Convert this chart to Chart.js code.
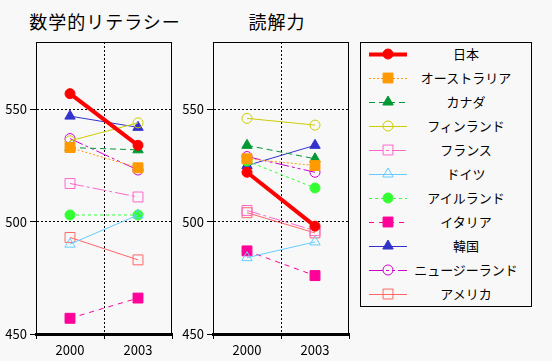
<!DOCTYPE html>
<html>
<head>
<meta charset="utf-8">
<script src="https://cdn.jsdelivr.net/npm/chart.js@4.4.0/dist/chart.umd.min.js"></script>
<style>
  body { margin: 0; background: #f8f8f8; width: 552px; height: 361px; overflow: hidden; position: relative;
         font-family: 'Noto Sans CJK JP', 'DejaVu Sans', sans-serif; color: #000; }
  canvas { position: absolute; top: 0; }
  .title { position: absolute; top: 11px; line-height: 20px; font-size: 18px; letter-spacing: 1px;
           white-space: nowrap; transform: translateX(-50%); }
  #legend { position: absolute; left: 360px; top: 42px; width: 170px; height: 263px; border: 1px solid #000; }
  .item { position: absolute; font-size: 13px; line-height: 16px; white-space: nowrap; transform: translate(-50%, -50%); }
</style>
</head>
<body>
<div class="title" style="left:105px">数学的リテラシー</div>
<div class="title" style="left:277px">読解力</div>
<canvas id="mathChart" width="180" height="361" style="left:0px"></canvas>
<canvas id="readChart" width="180" height="361" style="left:177px"></canvas>
<div id="legend"></div>
<canvas id="legendMarks" width="50" height="262" style="left:361px; top:43px"></canvas>
<script>
// Data
const years = ['2000', '2003'];
const countries = ['日本', 'オーストラリア', 'カナダ', 'フィンランド', 'フランス', 'ドイツ',
                   'アイルランド', 'イタリア', '韓国', 'ニュージーランド', 'アメリカ'];
const math2000 = [557, 533, 533, 536, 517, 490, 503, 457, 547, 537, 493];
const math2003 = [534, 524, 532, 544, 511, 503, 503, 466, 542, 523, 483];
const read2000 = [522, 528, 534, 546, 505, 484, 527, 487, 525, 529, 504];
const read2003 = [498, 525, 528, 543, 496, 491, 515, 476, 534, 522, 495];
const yTicks = [450, 500, 550];

// Styles per country
const colors = ['#ff0000', '#ff9900', '#009933', '#cccc00', '#ff66cc', '#66ccff',
                '#33ff33', '#ff0099', '#3333cc', '#cc00cc', '#ff6666'];
const dashes = [[], [2, 2], [6, 4], [], [14, 3, 3, 3], [], [3, 3], [5, 5], [], [14, 3, 3, 3, 3, 3], []];
const shapes = ['circle', 'rect', 'triangle', 'circle', 'rect', 'triangle',
                'circle', 'rect', 'triangle', 'circle', 'rect'];
const filled = [true, true, true, false, false, false, true, true, true, false, false];
const radii = [5, 7, 6, 5, 7, 6, 5, 7, 6, 5, 7];
const widths = [4, 1, 1, 1, 1, 1, 1, 1, 1, 1, 1];

const fontFamily = "'Noto Sans CJK JP', 'DejaVu Sans', sans-serif";

function makeDatasets(a, b) {
    return countries.map((name, i) => ({
        label: name,
        data: [a[i], b[i]],
        borderColor: colors[i],
        backgroundColor: filled[i] ? colors[i] : 'rgba(0,0,0,0)',
        borderWidth: widths[i],
        borderDash: dashes[i],
        pointStyle: shapes[i],
        pointRadius: radii[i],
        pointBorderWidth: 1,
        tension: 0
    }));
}

// solid frame round the plot area
const frame = {
    id: 'frame',
    beforeDatasetsDraw(chart) {
        const { ctx, chartArea: a } = chart;
        ctx.save();
        ctx.strokeStyle = '#000';
        ctx.lineWidth = 1;
        ctx.strokeRect(Math.round(a.left) + 0.5, Math.round(a.top) + 0.5,
                       Math.round(a.right - a.left) - 1, Math.round(a.bottom - a.top));
        ctx.restore();
    }
};

function makeChart(id, a, b) {
    return new Chart(document.getElementById(id), {
        type: 'line',
        data: { labels: years, datasets: makeDatasets(a, b) },
        options: {
            responsive: false,
            animation: false,
            layout: { padding: { top: 42, right: 8, left: 0, bottom: 0 } },
            plugins: { legend: { display: false }, tooltip: { enabled: false } },
            scales: {
                x: {
                    offset: true,
                    grid: {
                        offset: true,
                        color: c => c.index === 1 ? '#000' : 'rgba(0,0,0,0)',
                        tickColor: '#000',
                        tickLength: 5,
                        lineWidth: 1
                    },
                    border: { color: '#000', width: 3, dash: [2, 2] },
                    ticks: { color: '#000', font: { size: 13, family: fontFamily }, padding: 3, maxRotation: 0 },
                    afterFit: s => { s.height = 27; }
                },
                y: {
                    min: 450,
                    max: 580,
                    afterBuildTicks: s => { s.ticks = yTicks.map(v => ({ value: v })); },
                    grid: {
                        color: c => (c.tick && c.tick.value > 450) ? '#000' : 'rgba(0,0,0,0)',
                        tickColor: '#000',
                        tickLength: 6,
                        lineWidth: 1
                    },
                    border: { color: '#000', width: 1, dash: [2, 2] },
                    ticks: { color: '#000', font: { size: 13, family: fontFamily }, padding: 3 },
                    afterFit: s => { s.width = 36; }
                }
            }
        },
        plugins: [frame]
    });
}

makeChart('mathChart', math2000, math2003);
makeChart('readChart', read2000, read2003);

// Legend: line sample + marker, name centred
const legend = document.getElementById('legend');
const lctx = document.getElementById('legendMarks').getContext('2d');
countries.forEach((name, i) => {
    const y = 11 + 24 * i;
    lctx.save();
    lctx.strokeStyle = colors[i];
    lctx.lineWidth = widths[i];
    lctx.setLineDash(dashes[i]);
    lctx.beginPath();
    lctx.moveTo(8, y + 0.5);
    lctx.lineTo(46, y + 0.5);
    lctx.stroke();
    lctx.setLineDash([]);
    lctx.lineWidth = 1;
    lctx.fillStyle = filled[i] ? colors[i] : 'rgba(0,0,0,0)';
    Chart.helpers.drawPoint(lctx, { pointStyle: shapes[i], radius: radii[i], borderWidth: 1, rotation: 0 }, 27, y);
    lctx.restore();

    const label = document.createElement('div');
    label.className = 'item';
    label.style.left = '105px';
    label.style.top = (11 + 24 * i) + 'px';
    label.textContent = name;
    legend.appendChild(label);
});
</script>
</body>
</html>
